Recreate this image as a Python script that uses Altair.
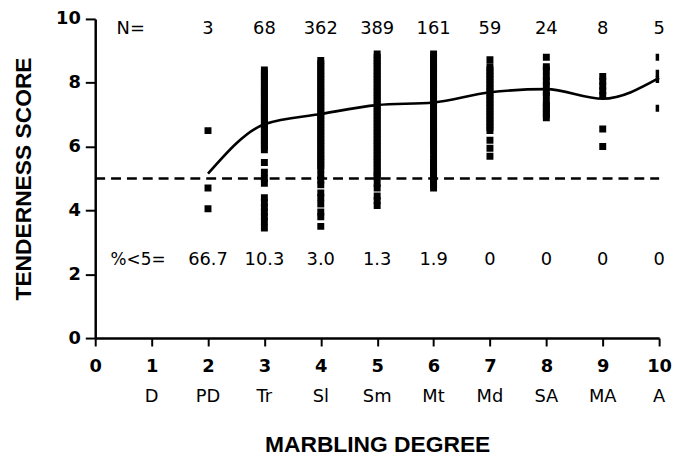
import altair as alt
import pandas as pd

# ---- data ----
grade_pos = [1, 2, 3, 4, 5, 6, 7, 8, 9, 10]
grade_names = ["D", "PD", "Tr", "Sl", "Sm", "Mt", "Md", "SA", "MA", "A"]

n_pos = [2, 3, 4, 5, 6, 7, 8, 9, 10]
n_counts = ["3", "68", "362", "389", "161", "59", "24", "8", "5"]
pct_below5 = ["66.7", "10.3", "3.0", "1.3", "1.9", "0", "0", "0", "0"]

mean_pos = [2, 3, 4, 5, 6, 7, 8, 9, 10]
mean_score = [5.15, 6.7, 7.02, 7.3, 7.38, 7.7, 7.8, 7.5, 8.15]

scores_pd = [6.5, 4.7, 4.05]
scores_tr = [8.4, 8.3, 8.2, 8.1, 8.0, 7.9, 7.8, 7.7, 7.6, 7.5, 7.4, 7.3, 7.2, 7.1,
             7.0, 6.9, 6.8, 6.7, 6.6, 6.5, 6.4, 6.3, 6.2, 6.1, 6.0, 5.9,
             5.5, 5.2, 5.0, 4.85, 4.4, 4.25, 4.1, 3.95, 3.8, 3.65, 3.45]
scores_sl = [8.7, 8.6, 8.5, 8.4, 8.3, 8.2, 8.1, 8.0, 7.9, 7.8, 7.7, 7.6, 7.5, 7.4,
             7.3, 7.2, 7.1, 7.0, 6.9, 6.8, 6.7, 6.6, 6.5, 6.4, 6.3, 6.2, 6.1, 6.0,
             5.9, 5.8, 5.7, 5.6, 5.5, 5.4, 5.3,
             5.1, 4.95, 4.8, 4.55, 4.4, 4.2, 3.95, 3.8, 3.5]
scores_sm = [8.9, 8.8, 8.7, 8.6, 8.5, 8.4, 8.3, 8.2, 8.1, 8.0, 7.9, 7.8, 7.7, 7.6,
             7.5, 7.4, 7.3, 7.2, 7.1, 7.0, 6.9, 6.8, 6.7, 6.6, 6.5, 6.4, 6.3, 6.2,
             6.1, 6.0, 5.9, 5.8, 5.7, 5.6, 5.5, 5.4, 5.3, 5.2, 5.1, 5.05,
             4.85, 4.7, 4.45, 4.3, 4.15]
scores_mt = [8.9, 8.8, 8.7, 8.6, 8.5, 8.4, 8.3, 8.2, 8.1, 8.0, 7.9, 7.8, 7.7, 7.6,
             7.5, 7.4, 7.3, 7.2, 7.1, 7.0, 6.9, 6.8, 6.7, 6.6, 6.5, 6.4, 6.3, 6.2,
             6.1, 6.0, 5.9, 5.75, 5.6, 5.5, 5.4, 5.3, 5.2, 5.1, 5.0, 4.9, 4.8, 4.7]
scores_md = [8.72, 8.5, 8.4, 8.3, 8.2, 8.1, 8.0, 7.9, 7.8, 7.7, 7.6, 7.5, 7.4, 7.3,
             7.2, 7.1, 7.0, 6.9, 6.8, 6.7, 6.6, 6.5, 6.2, 5.95, 5.7]
scores_sa = [8.8, 8.5, 8.4, 8.2, 8.05, 7.9, 7.7, 7.6, 7.4, 7.3, 7.2, 7.1, 7.0, 6.9]
scores_ma = [8.2, 8.05, 7.9, 7.75, 7.6, 6.55, 6.0]
scores_a = [8.8, 8.3, 8.1, 7.2]

# ---- tables ----
rows = []
for g, vals in zip([2, 3, 4, 5, 6, 7, 8, 9, 10],
                   [scores_pd, scores_tr, scores_sl, scores_sm, scores_mt,
                    scores_md, scores_sa, scores_ma, scores_a]):
    for v in vals:
        rows.append({"grade": g, "score": v})
points_df = pd.DataFrame(rows)
mean_df = pd.DataFrame({"grade": mean_pos, "score": mean_score})
n_df = pd.DataFrame({"grade": n_pos, "n": n_counts, "pct": pct_below5})
names_df = pd.DataFrame({"grade": grade_pos, "name": grade_names})

BOLD = "DejaVu Sans"
TITLE_FONT = "Liberation Sans"
TXT = "DejaVu Sans"

x_scale = alt.Scale(domain=[0, 10], nice=False, zero=False)
y_scale = alt.Scale(domain=[0, 10], nice=False, zero=False)

x_axis = alt.Axis(
    values=list(range(0, 11)), format="d", title="MARBLING DEGREE", grid=False,
    domainColor="black", domainWidth=2.5, tickColor="black", tickWidth=2,
    tickSize=8, labelFont=BOLD, labelFontWeight="bold", labelFontSize=18,
    labelColor="black", labelPadding=12, labelFlush=False,
    titleFont=TITLE_FONT, titleFontWeight="bold", titleFontSize=23,
    titleColor="black", titlePadding=58,
)
y_axis = alt.Axis(
    values=list(range(0, 11)), format="d", title="TENDERNESS SCORE", grid=False,
    labelExpr="datum.value % 2 == 0 ? datum.label : ''",
    domainColor="black", domainWidth=2.5, tickColor="black", tickWidth=2,
    tickSize={"condition": {"test": "datum.value % 2 == 1", "value": 6}, "value": 10},
    labelFont=BOLD, labelFontWeight="bold", labelFontSize=18,
    labelColor="black", labelPadding=5, labelFlush=False,
    titleFont=TITLE_FONT, titleFontWeight="bold", titleFontSize=23,
    titleColor="black", titlePadding=20,
)

base_x = alt.X("grade:Q", scale=x_scale, axis=x_axis)
base_y = alt.Y("score:Q", scale=y_scale, axis=y_axis)

pts = alt.Chart(points_df).mark_square(size=49, color="black", opacity=1, clip=True).encode(
    x=base_x, y=base_y)

curve = alt.Chart(mean_df).mark_line(color="black", strokeWidth=2.6, interpolate="monotone").encode(
    x="grade:Q", y="score:Q")

ref = alt.Chart(pd.DataFrame({"a": [0]})).mark_rule(
    color="black", strokeWidth=2.3, strokeDash=[10, 6]).encode(
    x=alt.datum(0), x2=alt.datum(10), y=alt.datum(5))

n_text = alt.Chart(n_df).mark_text(font=TXT, fontSize=18, color="black").encode(
    x="grade:Q", y=alt.datum(9.67), text="n:N")
pct_text = alt.Chart(n_df).mark_text(font=TXT, fontSize=18, color="black").encode(
    x="grade:Q", y=alt.datum(2.45), text="pct:N")
n_lab = alt.Chart(pd.DataFrame({"t": ["N="]})).mark_text(
    font=TXT, fontSize=18, color="black").encode(
    x=alt.datum(0.63), y=alt.datum(9.67), text="t:N")
pct_lab = alt.Chart(pd.DataFrame({"t": ["%<5="]})).mark_text(
    font=TXT, fontSize=17, color="black").encode(
    x=alt.datum(0.76), y=alt.datum(2.45), text="t:N")
names = alt.Chart(names_df).mark_text(font=TXT, fontSize=18, color="black").encode(
    x="grade:Q", y=alt.datum(-1.85), text="name:N")

chart = alt.layer(pts, curve, ref, n_text, pct_text, n_lab, pct_lab, names).properties(
    width=569, height=322,
    autosize=alt.AutoSizeParams(type="none"),
    padding={"left": 88, "top": 9, "right": 14, "bottom": 120},
    background="white",
).configure_view(stroke=None)

chart.save("out.html", embed_options={"renderer": "svg", "actions": False})
